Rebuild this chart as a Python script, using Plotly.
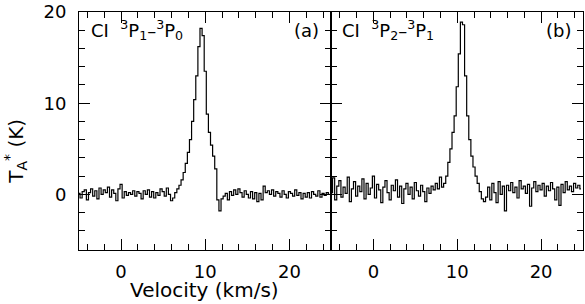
import plotly.graph_objects as go

# Channel grid (km/s)
V_START = -5.0
V_STEP = 0.25

# Panel (a): CI 3P1-3P0 antenna temperature (K)
ta_a = [
    0.1, -0.4, 0.3, 0.5, -0.6, 0.2, 0.6, -0.2, 0.4, -0.5,
    0.7, 0.0, 0.5, 0.2, 0.8, -0.3, 0.5, 0.1, -0.7, 0.6,
    1.1, -0.4, 0.3, -0.1, 0.2, 0.0, 0.4, -0.2, 0.3, 0.1,
    -0.5, 0.4, 0.0, 0.5, -0.3, 0.3, -0.4, 0.2, -0.1, 0.6,
    0.3, -0.2, 0.7, 0.0, -0.7, -0.4, 0.2, 0.6, 1.0, 1.6,
    2.4, 3.4, 4.6, 6.0, 8.0, 10.4, 13.0, 16.2, 18.2, 17.4,
    13.5, 8.8, 6.8, 5.4, 4.2, 2.8, -0.6, -1.8, -0.5,
    -0.2, 0.1, -0.6, 0.3, -0.1, 0.5, 0.0, 0.6, 0.2, -0.3,
    0.4, 0.0, -0.4, 0.3, -0.5, 0.2, -0.8, 0.1, -0.6, 0.9,
    0.2, 0.4, 0.0, 0.5, -0.2, 0.3, 0.1, -0.3, 0.4, 0.0,
    -0.4, 0.3, 0.1, -0.2, 0.5, -0.1, 0.2, -0.5, 0.1, -0.3,
    0.2, -0.4, 0.3, 0.0, -0.2, 0.4, -0.3, 0.1, -0.1, 0.2, 0.0,
]

# Panel (b): CI 3P2-3P1 antenna temperature (K)
ta_b = [
    0.2, 1.8, -0.6, 0.9, 1.5, -0.3, 0.8, 0.1, 1.9, -0.8,
    0.6, 1.4, -0.2, 0.9, 0.3, 1.7, -0.5, 1.2, 0.0, 0.7,
    2.0, -0.4, 1.1, 0.5, -0.9, 0.8, 1.5, 0.2, -0.6, 1.0,
    0.4, 1.6, -0.3, 0.9, -1.0, 0.6, 1.2, 0.0, 0.8, -0.5,
    1.3, 0.4, -0.2, 1.0, 0.3, -0.8, 0.7, 0.1, 0.9, 0.5,
    1.2, 0.6, 1.9, 0.8,
    1.2, 2.0, 3.5, 5.0, 6.8, 8.6, 11.8, 15.4, 18.9, 18.6,
    13.0, 8.6, 6.0, 4.2, 3.0, 2.0, 1.2, 0.3, -0.5, -0.8,
    -0.3, 0.8, -0.6, 1.2, 0.2, -0.9, 1.4, 0.0, 0.9, -1.8,
    1.0, 0.4, 1.3, 0.2, 0.8, -0.4, 1.5, 0.6, 0.9, 0.1,
    1.1, -1.3, 0.7, 1.4, 0.3, 1.0, 0.5, 1.2, -0.2, 0.9,
    0.4, 1.3, 0.6, -0.6, 0.8, -1.2, 1.1, 0.2, 1.4, 0.5,
    0.9, 0.3, 1.2, 0.7, 1.0, 0.6,
]

x_ticks = [0, 10, 20]
y_ticks = [0, 10, 20]
X_RANGE = [-5, 25]
Y_RANGE = [-6.1, 20]

FONT = "DejaVu Sans"
FS = 18
W, H = 585, 304
L, R, T, B = 79, 1, 8, 54
split = (332 - L) / (W - L - R)

fig = go.Figure()
line = dict(color="black", width=1.2, shape="hvh")
fig.add_trace(go.Scatter(y=ta_a, x0=V_START, dx=V_STEP, mode="lines", line=line,
                         xaxis="x", yaxis="y", showlegend=False, hoverinfo="skip"))
fig.add_trace(go.Scatter(y=ta_b, x0=V_START, dx=V_STEP, mode="lines", line=line,
                         xaxis="x2", yaxis="y2", showlegend=False, hoverinfo="skip"))

common_x = dict(range=X_RANGE, tickvals=x_ticks, ticks="inside", ticklen=11, tickwidth=1,
                tickcolor="black", showline=True, linecolor="black", linewidth=1,
                mirror="allticks", showgrid=False, zeroline=False,
                tickfont=dict(family=FONT, size=FS, color="black"),
                ticklabelstandoff=5, ticklabeloverflow="allow",
                minor=dict(dtick=2, tick0=0, ticks="inside", ticklen=6, tickcolor="black",
                           showgrid=False))
common_y = dict(range=Y_RANGE, tickvals=y_ticks, ticks="inside", ticklen=11, tickwidth=1,
                tickcolor="black", showline=True, linecolor="black", linewidth=1,
                mirror="allticks", showgrid=False, zeroline=False,
                tickfont=dict(family=FONT, size=FS, color="black"),
                ticklabelstandoff=8, ticklabeloverflow="allow",
                minor=dict(dtick=2, tick0=0, ticks="inside", ticklen=6, tickcolor="black",
                           showgrid=False))

fig.update_layout(
    width=W, height=H,
    margin=dict(l=L, r=R, t=T, b=B, pad=0),
    paper_bgcolor="white", plot_bgcolor="white",
    xaxis=dict(domain=[0, split], anchor="y", **common_x),
    xaxis2=dict(domain=[split, 1], anchor="y2", **common_x),
    yaxis=dict(anchor="x", **common_y),
    yaxis2=dict(anchor="x2", showticklabels=False, **common_y),
    font=dict(family=FONT, size=FS, color="black"),
)

ann_font = dict(family=FONT, size=FS, color="black")
title_font = dict(family=FONT, size=20, color="black")
fig.add_annotation(text="CI&nbsp; <sup>3</sup>P<sub>1</sub>\u2013<sup>3</sup>P<sub>0</sub>",
                   xref="x", yref="y", x=-3.8, y=18.0, xanchor="left", yanchor="middle",
                   showarrow=False, font=ann_font)
fig.add_annotation(text="(a)", xref="x", yref="y", x=23.8, y=18.0, xanchor="right",
                   yanchor="middle", showarrow=False, font=ann_font)
fig.add_annotation(text="CI&nbsp; <sup>3</sup>P<sub>2</sub>\u2013<sup>3</sup>P<sub>1</sub>",
                   xref="x2", yref="y2", x=-4.0, y=18.0, xanchor="left", yanchor="middle",
                   showarrow=False, font=ann_font)
fig.add_annotation(text="(b)", xref="x2", yref="y2", x=23.8, y=18.0, xanchor="right",
                   yanchor="middle", showarrow=False, font=ann_font)
fig.add_annotation(text="Velocity (km/s)", xref="paper", yref="paper",
                   x=(205 - L) / (W - L - R), y=-(291 - (H - B)) / (H - T - B),
                   xanchor="center", yanchor="middle", showarrow=False, font=title_font)
fig.add_annotation(text="T<sub>A</sub><sup>*</sup> (K)", textangle=-90,
                   xref="paper", yref="paper",
                   x=-(L - 16) / (W - L - R), y=(H - B - 150) / (H - T - B),
                   xanchor="center", yanchor="middle", showarrow=False, font=title_font)

fig.write_html(
    "out.html",
    config={"displayModeBar": False, "staticPlot": True},
    post_script="document.body.style.margin='0';document.body.style.overflow='hidden';",
)
